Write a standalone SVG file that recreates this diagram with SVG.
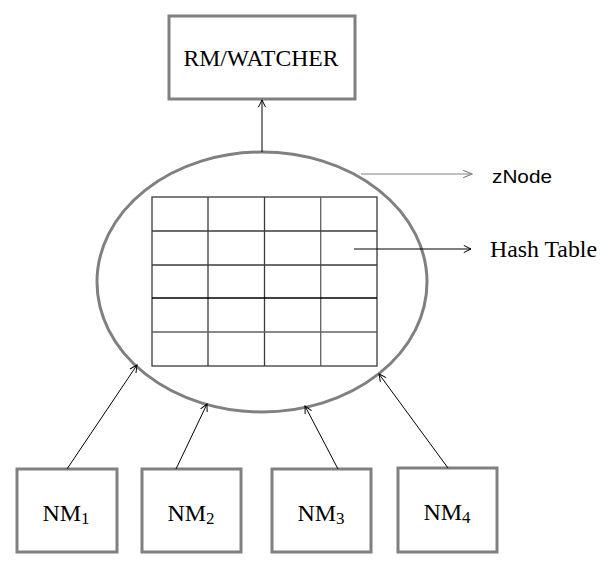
<svg xmlns="http://www.w3.org/2000/svg" width="610" height="573" viewBox="0 0 610 573">
<defs>
<style>
.box{fill:#fff;stroke:#808080;stroke-width:3}
.serif{font-family:"Liberation Serif","Times New Roman",serif;fill:#000}
.conn{stroke:#000;stroke-width:1;fill:none}
.grid{stroke:#3a3a3a;stroke-width:1.3;fill:none}
</style>
<marker id="ah" viewBox="0 0 10 10" refX="9" refY="5" markerWidth="9" markerHeight="9" markerUnits="userSpaceOnUse" orient="auto">
<path d="M1,1 L9,5 L1,9" fill="none" stroke="#000" stroke-width="1.1"/>
</marker>
<marker id="ahg" viewBox="0 0 10 10" refX="9" refY="5" markerWidth="11" markerHeight="11" markerUnits="userSpaceOnUse" orient="auto">
<path d="M1,1.5 L9,5 L1,8.5" fill="none" stroke="#808080" stroke-width="1"/>
</marker>
</defs>
<rect width="610" height="573" fill="#fff"/>

<g id="rm-watcher">
<rect class="box" x="169" y="16" width="186" height="83"/>
<text class="serif" x="261" y="66" font-size="23.5" text-anchor="middle" textLength="155" lengthAdjust="spacingAndGlyphs">RM/WATCHER</text>
</g>

<g id="znode">
<ellipse cx="262" cy="282" rx="165" ry="130" fill="#fff" stroke="#808080" stroke-width="3"/>
</g>

<g id="hash-table">
<rect class="grid" x="152" y="197" width="225" height="169"/>
<line class="grid" x1="208" y1="197" x2="208" y2="366"/>
<line class="grid" x1="264.5" y1="197" x2="264.5" y2="366" stroke="#000"/>
<line class="grid" x1="320.7" y1="197" x2="320.7" y2="366" style="stroke:#606060"/>
<line class="grid" x1="152" y1="231" x2="377" y2="231"/>
<line class="grid" x1="152" y1="265" x2="377" y2="265"/>
<line class="grid" x1="152" y1="298" x2="377" y2="298" style="stroke:#000"/>
<line class="grid" x1="152" y1="332" x2="377" y2="332" style="stroke:#606060;stroke-width:1.6"/>
</g>

<g id="label-znode">
<text x="492" y="183" font-family="Liberation Sans, Arial, sans-serif" font-size="19" textLength="60" lengthAdjust="spacingAndGlyphs" fill="#000">zNode</text>
</g>
<g id="label-hash-table">
<text class="serif" x="490" y="257" font-size="23" textLength="107" lengthAdjust="spacingAndGlyphs">Hash Table</text>
</g>

<g id="nm1">
<rect class="box" x="17" y="469" width="100" height="83"/>
<text class="serif" x="66" y="521" font-size="24" text-anchor="middle">NM<tspan font-size="17" dy="3">1</tspan></text>
</g>
<g id="nm2">
<rect class="box" x="142" y="469" width="99" height="83"/>
<text class="serif" x="191" y="521" font-size="24" text-anchor="middle">NM<tspan font-size="17" dy="3">2</tspan></text>
</g>
<g id="nm3">
<rect class="box" x="272" y="469" width="99" height="83"/>
<text class="serif" x="321" y="521" font-size="24" text-anchor="middle">NM<tspan font-size="17" dy="3">3</tspan></text>
</g>
<g id="nm4">
<rect class="box" x="398" y="468" width="99" height="84"/>
<text class="serif" x="447" y="520" font-size="24" text-anchor="middle">NM<tspan font-size="17" dy="3">4</tspan></text>
</g>

<g id="connectors">
<line class="conn" x1="262" y1="152" x2="262" y2="100" marker-end="url(#ah)"/>
<line x1="361" y1="174" x2="472" y2="174" stroke="#808080" stroke-width="1" marker-end="url(#ahg)"/>
<line class="conn" x1="354" y1="249" x2="471" y2="249" marker-end="url(#ah)"/>
<line class="conn" x1="67" y1="469" x2="137" y2="365" marker-end="url(#ah)"/>
<line class="conn" x1="176" y1="469" x2="207" y2="404" marker-end="url(#ah)"/>
<line class="conn" x1="338" y1="469" x2="305" y2="406" marker-end="url(#ah)"/>
<line class="conn" x1="448" y1="468" x2="379" y2="374" marker-end="url(#ah)"/>
</g>
</svg>
